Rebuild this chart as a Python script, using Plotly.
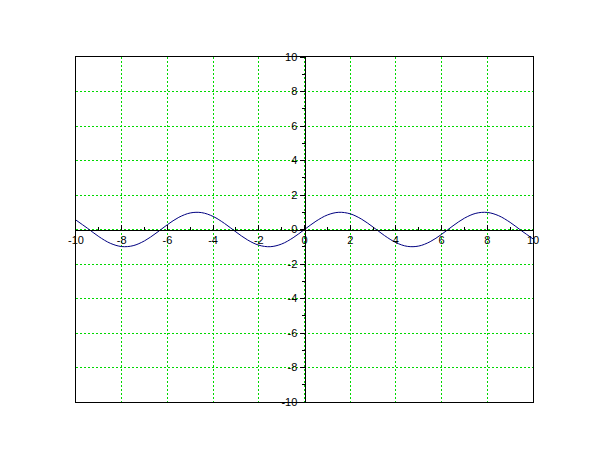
import plotly.graph_objects as go

x_vals = [-10, -9.5, -9, -8.5, -8, -7.5, -7, -6.5, -6, -5.5, -5, -4.5, -4, -3.5, -3, -2.5, -2, -1.5, -1, -0.5,
          0, 0.5, 1, 1.5, 2, 2.5, 3, 3.5, 4, 4.5, 5, 5.5, 6, 6.5, 7, 7.5, 8, 8.5, 9, 9.5, 10]
y_vals = [0.544, 0.075, -0.412, -0.798, -0.989, -0.938, -0.657, -0.215, 0.279, 0.706, 0.959, 0.978, 0.757,
          0.351, -0.141, -0.598, -0.909, -0.997, -0.841, -0.479,
          0.0, 0.479, 0.841, 0.997, 0.909, 0.598, 0.141, -0.351, -0.757, -0.978, -0.959, -0.706, -0.279,
          0.215, 0.657, 0.938, 0.989, 0.798, 0.412, -0.075, -0.544]
tick_vals = [-10, -8, -6, -4, -2, 0, 2, 4, 6, 8, 10]
tick_text = ["-10", "-8", "-6", "-4", "-2", "0", "2", "4", "6", "8", "10"]

fig = go.Figure()
fig.add_trace(go.Scatter(x=x_vals, y=y_vals, mode="lines", xaxis="x", yaxis="y",
                         line=dict(color="#000080", width=1, shape="spline"),
                         hoverinfo="skip", showlegend=False))
fig.add_trace(go.Scatter(x=x_vals, y=y_vals, mode="lines", xaxis="x2", yaxis="y2",
                         line=dict(color="rgba(0,0,0,0)", width=0),
                         hoverinfo="skip", showlegend=False))

grid_green = "#00d800"
font = dict(family="Liberation Sans, Arial, sans-serif", size=11, color="#000000")

fig.update_layout(
    width=602, height=452,
    margin=dict(l=68, r=77, t=49, b=58, autoexpand=False),
    paper_bgcolor="white", plot_bgcolor="white",
    showlegend=False,
    xaxis=dict(range=[-10, 10], showgrid=True, gridcolor=grid_green, griddash="2px,2px", gridwidth=1,
               tickvals=tick_vals, showticklabels=False, ticks="", zeroline=False, automargin=False,
               showline=True, linecolor="black", linewidth=1, mirror=True, fixedrange=True),
    yaxis=dict(range=[-10, 10], showgrid=True, gridcolor=grid_green, griddash="2px,2px", gridwidth=1,
               tickvals=tick_vals, showticklabels=False, ticks="", zeroline=False, automargin=False,
               showline=True, linecolor="black", linewidth=1, mirror=True, fixedrange=True),
    xaxis2=dict(range=[-10, 10], overlaying="x", anchor="free", position=0.5, side="bottom",
                showgrid=False, zeroline=False, showline=True, linecolor="black", linewidth=1,
                tickvals=tick_vals, ticktext=tick_text, ticks="inside", ticklen=5, tickcolor="black",
                minor=dict(ticks="inside", ticklen=3, dtick=1, tickcolor="black", showgrid=False),
                tickfont=font, fixedrange=True, automargin=False),
    yaxis2=dict(range=[-10, 10], overlaying="y", anchor="free", position=0.5, side="left",
                showgrid=False, zeroline=False, showline=True, linecolor="black", linewidth=1,
                tickvals=tick_vals, ticktext=tick_text, ticks="outside", ticklen=5, tickcolor="black",
                minor=dict(ticks="outside", ticklen=3, dtick=1, tickcolor="black", showgrid=False),
                tickfont=font, fixedrange=True, automargin=False),
)

fig.write_html("out.html")
